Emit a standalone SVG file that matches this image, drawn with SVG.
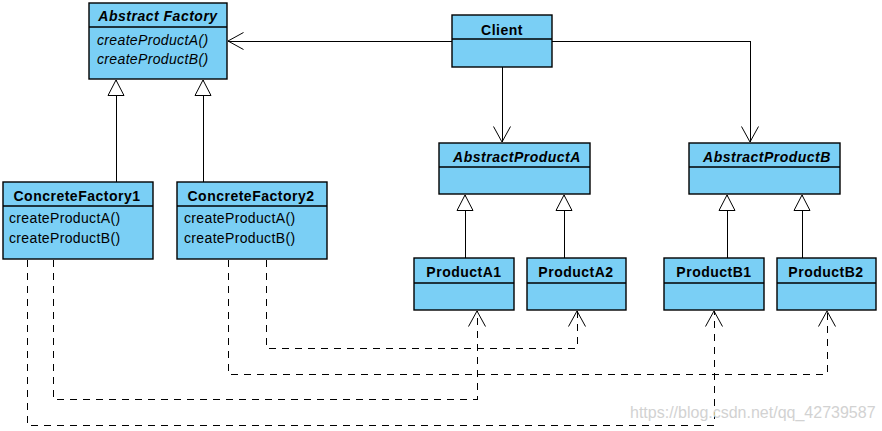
<svg xmlns="http://www.w3.org/2000/svg" width="882" height="431" viewBox="0 0 882 431">
<style>
.box{fill:#7ACFF5;stroke:#000;stroke-width:1.4}
.div{stroke:#000;stroke-width:1.4}
.t{font-family:"Liberation Sans",Arial,sans-serif;font-size:14px;fill:#000;letter-spacing:0.35px}
.b{font-weight:bold;letter-spacing:0.5px}
.i{font-style:italic}
.c{text-anchor:middle}
.ln{stroke:#000;stroke-width:1;fill:none;shape-rendering:crispEdges}
.dash{stroke-dasharray:7 6}
.inh{marker-end:url(#tri)}
.dep{marker-end:url(#open)}
.wm{font-family:"Liberation Sans",Arial,sans-serif;font-size:16px;fill:#d2d2d2}
</style>
<defs>
<marker id="open" markerUnits="userSpaceOnUse" viewBox="0 0 17 18" refX="16" refY="9" markerWidth="17" markerHeight="18" orient="auto">
<path d="M0.5,0.5 L16,9 L0.5,17.5" fill="none" stroke="#000" stroke-width="1" stroke-dasharray="none"/>
</marker>
<marker id="tri" markerUnits="userSpaceOnUse" viewBox="0 0 17 18" refX="16" refY="9" markerWidth="17" markerHeight="18" orient="auto">
<path d="M0.5,1 L16,9 L0.5,17 Z" fill="#fff" stroke="#000" stroke-width="1"/>
</marker>
</defs>
<rect width="882" height="431" fill="#fff"/>
<g id="connectors">
<path class="ln inh" d="M116,182 V80"/>
<path class="ln inh" d="M203,182 V80"/>
<path class="ln dep" d="M452,41 H228"/>
<path class="ln dep" d="M502,67 V142"/>
<path class="ln dep" d="M552,41 H750 V142"/>
<path class="ln inh" d="M465,258 V195"/>
<path class="ln inh" d="M564,258 V195"/>
<path class="ln inh" d="M727,258 V195"/>
<path class="ln inh" d="M802,258 V195"/>
<path class="ln dash dep" d="M266,260 V348 H577 V311"/>
<path class="ln dash dep" d="M228,260 V374 H827 V311"/>
<path class="ln dash dep" d="M53,260 V399 H477 V311"/>
<path class="ln dash dep" d="M27,260 V425 H714 V311"/>
</g>
<g id="AbstractFactory">
<rect class="box" x="89" y="3" width="138" height="76"/>
<line class="div" x1="89" y1="27" x2="227" y2="27"/>
<text class="t b i c" x="158" y="21">Abstract Factory</text>
<text class="t i" x="97" y="45">createProductA()</text>
<text class="t i" x="97" y="64">createProductB()</text>
</g>
<g id="Client">
<rect class="box" x="452" y="15" width="100" height="52"/>
<line class="div" x1="452" y1="39" x2="552" y2="39"/>
<text class="t b c" x="502" y="35">Client</text>
</g>
<g id="AbstractProductA">
<rect class="box" x="439" y="143" width="151" height="51"/>
<line class="div" x1="439" y1="167" x2="590" y2="167"/>
<text class="t b i c" x="517" y="162">AbstractProductA</text>
</g>
<g id="AbstractProductB">
<rect class="box" x="689" y="143" width="151" height="51"/>
<line class="div" x1="689" y1="167" x2="840" y2="167"/>
<text class="t b i c" x="767" y="162">AbstractProductB</text>
</g>
<g id="ConcreteFactory1">
<rect class="box" x="3" y="182" width="150" height="77"/>
<line class="div" x1="3" y1="206" x2="153" y2="206"/>
<text class="t b c" x="77" y="201">ConcreteFactory1</text>
<text class="t" x="9" y="223">createProductA()</text>
<text class="t" x="9" y="243">createProductB()</text>
</g>
<g id="ConcreteFactory2">
<rect class="box" x="177" y="182" width="150" height="77"/>
<line class="div" x1="177" y1="206" x2="327" y2="206"/>
<text class="t b c" x="251" y="201">ConcreteFactory2</text>
<text class="t" x="184" y="223">createProductA()</text>
<text class="t" x="184" y="243">createProductB()</text>
</g>
<g id="ProductA1">
<rect class="box" x="414" y="258" width="100" height="52"/>
<line class="div" x1="414" y1="283" x2="514" y2="283"/>
<text class="t b c" x="464" y="277">ProductA1</text>
</g>
<g id="ProductA2">
<rect class="box" x="527" y="258" width="99" height="52"/>
<line class="div" x1="527" y1="283" x2="626" y2="283"/>
<text class="t b c" x="576" y="277">ProductA2</text>
</g>
<g id="ProductB1">
<rect class="box" x="664" y="258" width="100" height="52"/>
<line class="div" x1="664" y1="283" x2="764" y2="283"/>
<text class="t b c" x="714" y="277">ProductB1</text>
</g>
<g id="ProductB2">
<rect class="box" x="777" y="258" width="99" height="52"/>
<line class="div" x1="777" y1="283" x2="876" y2="283"/>
<text class="t b c" x="826" y="277">ProductB2</text>
</g>
<text class="wm" x="630" y="418">https://blog.csdn.net/qq_42739587</text>
</svg>
